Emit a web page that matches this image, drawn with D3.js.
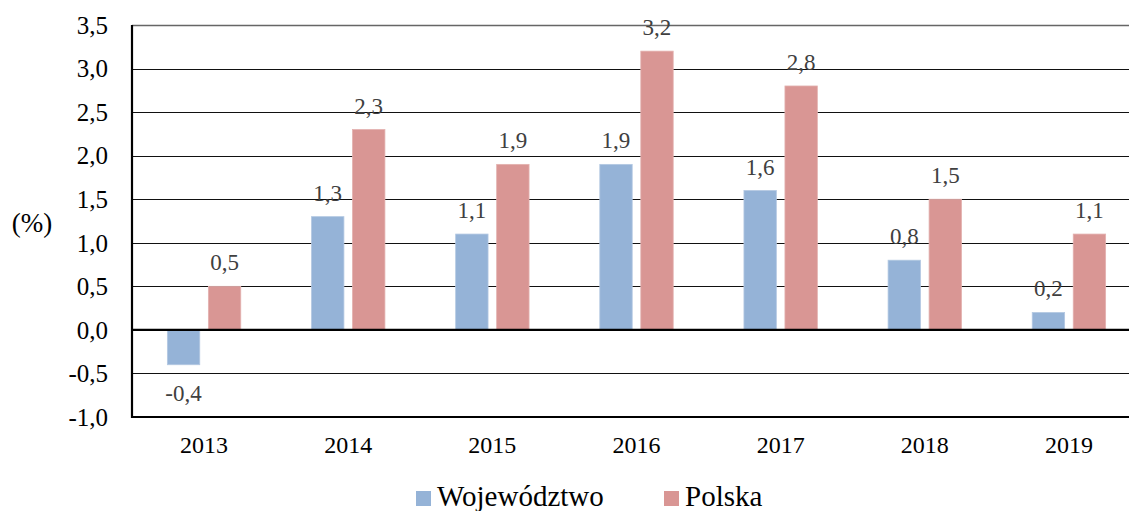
<!DOCTYPE html>
<html>
<head>
<meta charset="utf-8">
<script src="https://cdn.jsdelivr.net/npm/d3@7"></script>
<style>
  html, body { margin: 0; padding: 0; background: #fff; }
  svg { display: block; }
  text { font-family: "Liberation Serif", "Times New Roman", serif; }
</style>
</head>
<body>
<svg id="chart" width="1129" height="511"></svg>
<script>
// Year-on-year change (%), regional vs national
const years = ["2013", "2014", "2015", "2016", "2017", "2018", "2019"];
const seriesNames = ["Województwo", "Polska"];
const wojewodztwo = [-0.4, 1.3, 1.1, 1.9, 1.6, 0.8, 0.2];
const polska = [0.5, 2.3, 1.9, 3.2, 2.8, 1.5, 1.1];
const yTicks = [-1.0, -0.5, 0.0, 0.5, 1.0, 1.5, 2.0, 2.5, 3.0, 3.5];
const colors = ["#95b3d7", "#d99694"];
const edgeColors = ["#b3c8e2", "#e3b1af"];

const svg = d3.select("#chart");
const fmt = v => d3.format(".1f")(v).replace(".", ",").replace("−", "-");

const x0 = d3.scaleBand().domain(years).range([132, 1141]);
const x1 = d3.scaleBand().domain(seriesNames)
  .range([(x0.bandwidth() - 73.4) / 2, (x0.bandwidth() + 73.4) / 2])
  .paddingInner(0.21);
const y = d3.scaleLinear().domain([-1, 3.5]).range([417, 25]);

// horizontal gridlines
svg.append("g").selectAll("line").data(yTicks.filter(t => t !== 0 && t !== -1))
  .join("line")
  .attr("x1", 132).attr("x2", 1129)
  .attr("y1", d => Math.round(y(d)) + 0.5).attr("y2", d => Math.round(y(d)) + 0.5)
  .attr("stroke", d => d === 3.5 ? "#666" : "#111")
  .attr("stroke-width", d => d === 3.5 ? 1.4 : 1.2);

// y tick labels
const yAxis = d3.axisLeft(y).tickValues(yTicks).tickSize(0).tickPadding(24).tickFormat(fmt);
const gy = svg.append("g").attr("transform", "translate(132,0)").call(yAxis);
gy.attr("font-family", null);
gy.select(".domain").remove();
gy.selectAll("text")
  .attr("font-size", 25).attr("fill", "#000").attr("dy", "0.33em");

// bars
const rows = years.map((yr, i) => ({ year: yr, values: [wojewodztwo[i], polska[i]] }));
const groups = svg.append("g").selectAll("g").data(rows).join("g")
  .attr("transform", d => `translate(${x0(d.year)},0)`);

groups.selectAll("rect")
  .data(d => d.values.map((v, k) => ({ name: seriesNames[k], v, k })))
  .join("rect")
  .attr("x", d => x1(d.name))
  .attr("width", x1.bandwidth())
  .attr("y", d => y(Math.max(0, d.v)))
  .attr("height", d => Math.abs(y(d.v) - y(0)))
  .attr("fill", d => colors[d.k])
  .attr("stroke", d => edgeColors[d.k])
  .attr("stroke-width", 0.8);

// value labels
groups.selectAll("text")
  .data(d => d.values.map((v, k) => ({ name: seriesNames[k], v, k })))
  .join("text")
  .attr("x", d => x1(d.name) + x1.bandwidth() / 2)
  .attr("y", d => d.v >= 0 ? y(d.v) - 16 : y(d.v) + 36)
  .attr("text-anchor", "middle")
  .attr("font-size", 23)
  .attr("fill", "#404040")
  .text(d => fmt(d.v));

// axes lines: zero line, left and bottom
svg.append("line").attr("x1", 132).attr("x2", 1129)
  .attr("y1", y(0)).attr("y2", y(0)).attr("stroke", "#000").attr("stroke-width", 2.2);
svg.append("line").attr("x1", 132).attr("x2", 1129)
  .attr("y1", y(-1)).attr("y2", y(-1)).attr("stroke", "#000").attr("stroke-width", 2.2);
svg.append("line").attr("x1", 132).attr("x2", 132)
  .attr("y1", y(3.5)).attr("y2", y(-1) + 1).attr("stroke", "#000").attr("stroke-width", 2.2);

// category labels
const xAxis = d3.axisBottom(x0).tickSize(0).tickPadding(0);
const gx = svg.append("g").attr("transform", "translate(0,417)").call(xAxis);
gx.attr("font-family", null);
gx.select(".domain").remove();
gx.selectAll("text")
  .attr("font-size", 24).attr("fill", "#000")
  .attr("y", 36).attr("dy", 0);

// unit label
svg.append("text").attr("x", 32).attr("y", 232)
  .attr("text-anchor", "middle").attr("font-size", 27).attr("fill", "#000")
  .text("(%)");

// legend
const legendX = [416, 664];
const lg = svg.append("g").selectAll("g").data(seriesNames).join("g")
  .attr("transform", (d, i) => `translate(${legendX[i]},0)`);
lg.append("rect").attr("x", 0).attr("y", 491).attr("width", 15).attr("height", 15)
  .attr("fill", (d, i) => colors[i]);
lg.append("text").attr("x", 21).attr("y", 506).attr("font-size", 29).attr("fill", "#000")
  .text(d => d);
</script>
</body>
</html>
